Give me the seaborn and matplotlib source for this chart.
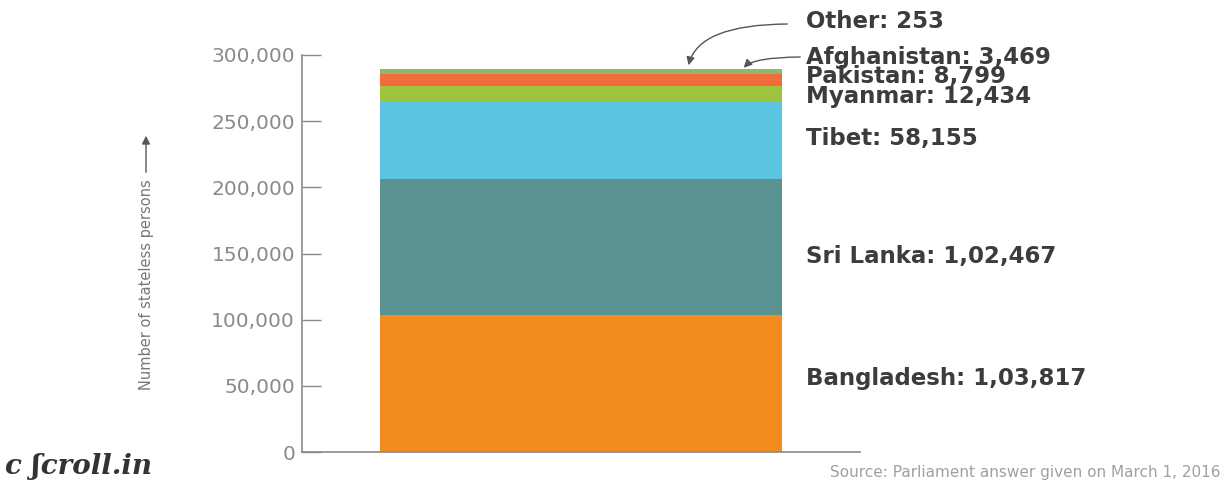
import numpy as np
import pandas as pd
import matplotlib
matplotlib.use("Agg")
import matplotlib.pyplot as plt
import seaborn as sns

countries = ["Bangladesh", "Sri Lanka", "Tibet", "Myanmar", "Pakistan", "Afghanistan", "Other"]
values = [103817, 102467, 58155, 12434, 8799, 3469, 253]
labels = ["1,03,817", "1,02,467", "58,155", "12,434", "8,799", "3,469", "253"]
colors = ["#F28C1E", "#5A9191", "#5BC4E0", "#9DC43C", "#F06C3C", "#8DB86E", "#B0B0B0"]
yticks = [0, 50000, 100000, 150000, 200000, 250000, 300000]
ytick_labels = ["0", "50,000", "100,000", "150,000", "200,000", "250,000", "300,000"]

sns.set_style("white")
plt.rcParams['font.family'] = ['DejaVu Sans']

fig = plt.figure(figsize=(12.26, 4.88), dpi=100)
ax = fig.add_axes([302/1226, (488-452)/488, (860-302)/1226, (452-55)/488])

df = pd.DataFrame({"group": ["all"] * len(countries), "country": countries, "value": values})
bottom = 0
for c, v, col in zip(countries, values, colors):
    sub = df[df.country == c]
    sns.barplot(data=sub, x="group", y="value", color=col, width=0.8,
                bottom=bottom, ax=ax, linewidth=0, saturation=1)
    bottom += v

ax.set_xlim(-0.555, 0.555)
ax.set_ylim(0, 300000)
ax.set_yticks(yticks)
ax.set_yticklabels(ytick_labels, color="#8a8a8a", fontsize=14.5)
ax.set_xticks([])
ax.set_xlabel("")
ax.set_ylabel("")
for s in ["top", "right"]:
    ax.spines[s].set_visible(False)
for s in ["left", "bottom"]:
    ax.spines[s].set_color("#8a8a8a")
    ax.spines[s].set_linewidth(1.2)
ax.tick_params(axis="y", direction="in", length=14, color="#8a8a8a", width=1, pad=5, left=True)

def fy(p):
    return 1 - p/488
def fx(p):
    return p/1226

lab = {c: f"{c}: {l}" for c, l in zip(countries, labels)}
label_kw = dict(fontsize=16.5, fontweight="bold", color="#3c3c3c", ha="left")
fig.text(fx(806), fy(378), lab["Bangladesh"], va="center", **label_kw)
fig.text(fx(806), fy(257), lab["Sri Lanka"], va="center", **label_kw)
fig.text(fx(806), fy(138), lab["Tibet"], va="center", **label_kw)
fig.text(fx(806), fy(77), "\n".join([lab["Afghanistan"], lab["Pakistan"], lab["Myanmar"]]),
         va="center", linespacing=0.78, **label_kw)
fig.text(fx(806), fy(22), lab["Other"], va="center", **label_kw)

# arrows
ax.annotate("", xy=(fx(688), fy(68)), xycoords="figure fraction",
            xytext=(fx(790), fy(24)), textcoords="figure fraction",
            arrowprops=dict(arrowstyle="-|>", color="#555555", lw=1.0,
                            connectionstyle="angle3,angleA=0,angleB=80", mutation_scale=12))
ax.annotate("", xy=(fx(742), fy(70)), xycoords="figure fraction",
            xytext=(fx(803), fy(57)), textcoords="figure fraction",
            arrowprops=dict(arrowstyle="-|>", color="#555555", lw=1.0,
                            connectionstyle="angle3,angleA=0,angleB=60", mutation_scale=12))

# y label with arrow
fig.text(fx(146), fy(285), "Number of stateless persons", rotation=90, fontsize=10.5,
         color="#777777", ha="center", va="center")
ax.annotate("", xy=(fx(146), fy(133)), xycoords="figure fraction",
            xytext=(fx(146), fy(175)), textcoords="figure fraction",
            arrowprops=dict(arrowstyle="-|>", color="#555555", lw=1.0, mutation_scale=12))

# footer
fig.text(fx(5), fy(467), "c ʃcroll.in", fontsize=20, fontweight="bold", fontstyle="italic",
         family=["DejaVu Serif"], color="#333333", va="center", ha="left")
fig.text(fx(1220), fy(472), "Source: Parliament answer given on March 1, 2016", fontsize=11,
         color="#a0a0a0", va="center", ha="right")

fig.savefig("out.png", dpi=100)
